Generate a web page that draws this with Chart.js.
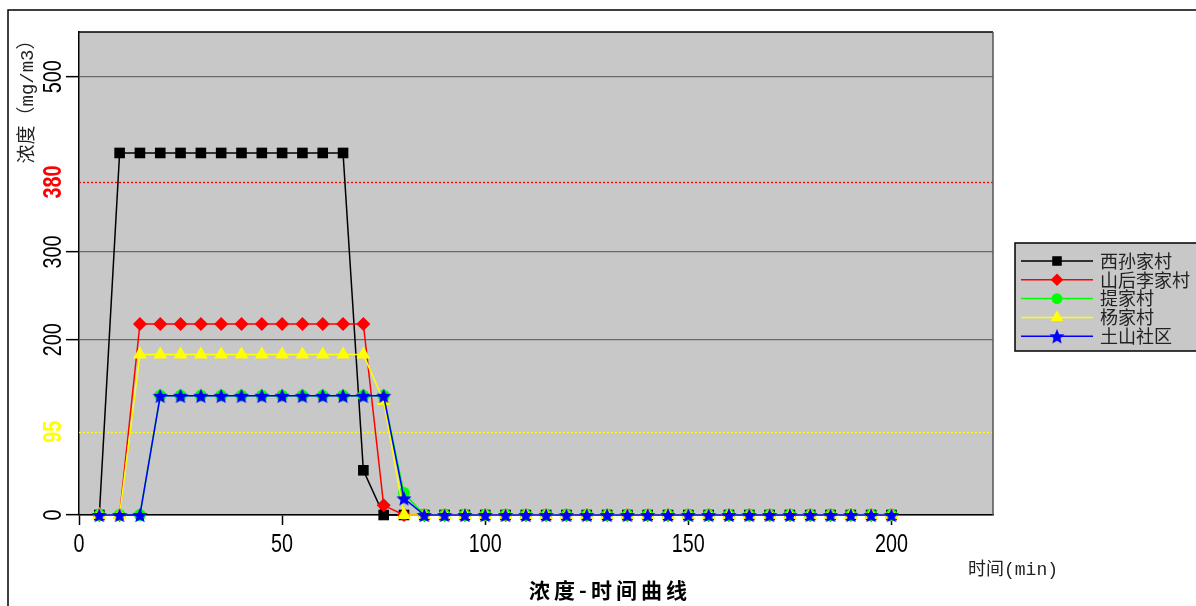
<!DOCTYPE html>
<html>
<head>
<meta charset="utf-8">
<script src="https://cdn.jsdelivr.net/npm/chart.js@4.4.1/dist/chart.umd.min.js"></script>
<style>
  html, body { margin: 0; padding: 0; background: #fff; }
  #wrap { width: 1196px; height: 606px; position: relative; }
</style>
</head>
<body>
<div id="wrap"><canvas id="myChart" width="1196" height="606"></canvas></div>
<script>
// time points (min)
const times = [5, 10, 15, 20, 25, 30, 35, 40, 45, 50, 55, 60, 65, 70, 75, 80, 85, 90, 95, 100,
               105, 110, 115, 120, 125, 130, 135, 140, 145, 150, 155, 160, 165, 170, 175, 180, 185, 190, 195, 200];

const names = ['西孙家村', '山后李家村', '提家村', '杨家村', '土山社区'];

const xisun   = [0, 413, 413, 413, 413, 413, 413, 413, 413, 413, 413, 413, 413, 51, 0, 0, 0, 0, 0, 0,
                 0, 0, 0, 0, 0, 0, 0, 0, 0, 0, 0, 0, 0, 0, 0, 0, 0, 0, 0, 0];
const shanhou = [0, 0, 218, 218, 218, 218, 218, 218, 218, 218, 218, 218, 218, 218, 11, 0, 0, 0, 0, 0,
                 0, 0, 0, 0, 0, 0, 0, 0, 0, 0, 0, 0, 0, 0, 0, 0, 0, 0, 0, 0];
const tijia   = [0, 0, 0, 136, 136, 136, 136, 136, 136, 136, 136, 136, 136, 136, 136, 25, 0, 0, 0, 0,
                 0, 0, 0, 0, 0, 0, 0, 0, 0, 0, 0, 0, 0, 0, 0, 0, 0, 0, 0, 0];
const yangjia = [0, 0, 183, 183, 183, 183, 183, 183, 183, 183, 183, 183, 183, 183, 130, 0, 0, 0, 0, 0,
                 0, 0, 0, 0, 0, 0, 0, 0, 0, 0, 0, 0, 0, 0, 0, 0, 0, 0, 0, 0];
const tushan  = [0, 0, 0, 136, 136, 136, 136, 136, 136, 136, 136, 136, 136, 136, 136, 19, 0, 0, 0, 0,
                 0, 0, 0, 0, 0, 0, 0, 0, 0, 0, 0, 0, 0, 0, 0, 0, 0, 0, 0, 0];

const xTicks = [0, 50, 100, 150, 200];
const yTicks = [0, 95, 200, 300, 380, 500];
const limits = [{ value: 380, color: '#ff0000' }, { value: 95, color: '#ffff00' }];

const NUM_FONT = '"Liberation Sans", Arial, sans-serif';
const CJK_FONT = '"Liberation Mono", "Noto Sans CJK SC", monospace';
const SQUEEZE = 0.76; // numbers in the original are a narrow face

function starImage(size, color) {
    const c = document.createElement('canvas');
    c.width = size; c.height = size;
    const g = c.getContext('2d');
    const cx = size / 2, cy = size / 2 + 0.8, R = size / 2, r = R * 0.45;
    g.beginPath();
    for (let i = 0; i < 10; i++) {
        const rad = i % 2 ? r : R;
        const a = -Math.PI / 2 + i * Math.PI / 5;
        g.lineTo(cx + rad * Math.cos(a), cy + rad * Math.sin(a));
    }
    g.closePath();
    g.fillStyle = color;
    g.fill();
    return c;
}
const star = starImage(16, '#0000ff');

function pts(arr) {
    return times.map((t, i) => ({ x: t, y: arr[i] }));
}

const series = [
    { label: names[0], data: xisun,   color: '#000000', style: 'rect',    radius: 7.5, order: 4 },
    { label: names[1], data: shanhou, color: '#ff0000', style: 'rectRot', radius: 7,   order: 3 },
    { label: names[2], data: tijia,   color: '#00ff00', style: 'circle',  radius: 6,   order: 2 },
    { label: names[3], data: yangjia, color: '#ffff00', style: 'triangle', radius: 8,  order: 1 },
    { label: names[4], data: tushan,  color: '#0000ff', style: star,      radius: 8,   order: 0 },
];

const frame = {
    id: 'frame',
    beforeDraw(chart) {
        const { ctx, chartArea: a } = chart;
        ctx.save();
        ctx.fillStyle = '#c8c8c8';
        ctx.fillRect(a.left, a.top, a.right - a.left, a.bottom - a.top);
        ctx.restore();
    },
    beforeDatasetsDraw(chart) {
        const { ctx, chartArea: a } = chart;
        const y = chart.scales.y;
        ctx.save();
        ctx.lineWidth = 1.3;
        ctx.setLineDash([2, 2]);
        limits.forEach(l => {
            const py = Math.round(y.getPixelForValue(l.value)) + 0.5;
            ctx.strokeStyle = l.color;
            ctx.beginPath();
            ctx.moveTo(a.left, py);
            ctx.lineTo(a.right, py);
            ctx.stroke();
        });
        ctx.setLineDash([]);
        ctx.strokeStyle = '#000';
        ctx.lineWidth = 1.5;
        ctx.beginPath();
        ctx.moveTo(a.left, a.top);
        ctx.lineTo(a.right, a.top);
        ctx.stroke();
        ctx.strokeStyle = '#555';
        ctx.beginPath();
        ctx.moveTo(a.right, a.top);
        ctx.lineTo(a.right, a.bottom);
        ctx.stroke();
        ctx.restore();
    },
    afterDraw(chart) {
        const { ctx } = chart;
        const x = chart.scales.x;
        const y = chart.scales.y;
        ctx.save();

        // outer frame
        ctx.strokeStyle = '#000';
        ctx.lineWidth = 1.5;
        ctx.strokeRect(8, 10, 1400, 800);

        // x tick labels
        ctx.fillStyle = '#000';
        ctx.font = '26px ' + NUM_FONT;
        ctx.textAlign = 'center';
        ctx.textBaseline = 'alphabetic';
        xTicks.forEach(v => {
            ctx.save();
            ctx.translate(x.getPixelForValue(v), 552);
            ctx.scale(SQUEEZE, 1);
            ctx.fillText(String(v), 0, 0);
            ctx.restore();
        });

        // y tick labels, vertical
        yTicks.forEach(v => {
            const lim = limits.find(l => l.value === v);
            ctx.save();
            ctx.translate(61, y.getPixelForValue(v));
            ctx.rotate(-Math.PI / 2);
            ctx.scale(SQUEEZE, 1);
            ctx.fillStyle = lim ? lim.color : '#000';
            ctx.font = (lim ? 'bold ' : '') + '26px ' + NUM_FONT;
            ctx.fillText(String(v), 0, 0);
            ctx.restore();
        });

        // y title
        ctx.save();
        ctx.translate(28, 97);
        ctx.rotate(-Math.PI / 2);
        ctx.fillStyle = '#222';
        ctx.textBaseline = 'middle';
        ctx.font = '19px ' + CJK_FONT;
        ctx.fillText('浓度（mg/m3）', 0, 0);
        ctx.restore();

        // x title
        ctx.fillStyle = '#222';
        ctx.font = '18px ' + CJK_FONT;
        ctx.textAlign = 'left';
        ctx.textBaseline = 'middle';
        ctx.fillText('时间(min)', 968, 570);

        // chart title
        ctx.fillStyle = '#000';
        ctx.font = 'bold 21px "Noto Sans CJK SC"';
        ctx.textAlign = 'center';
        ctx.letterSpacing = '4px';
        ctx.fillText('浓度-时间曲线', 610, 590);
        ctx.letterSpacing = '0px';

        // legend
        const lx = 1015, ly = 243;
        ctx.fillStyle = '#c8c8c8';
        ctx.fillRect(lx, ly, 200, 108);
        ctx.strokeStyle = '#000';
        ctx.lineWidth = 1.5;
        ctx.strokeRect(lx, ly, 200, 108);
        series.forEach((s, i) => {
            const ry = 261 + i * 18.8;
            ctx.strokeStyle = s.color;
            ctx.lineWidth = 1.5;
            ctx.beginPath();
            ctx.moveTo(1021, ry);
            ctx.lineTo(1093, ry);
            ctx.stroke();
            ctx.fillStyle = s.color;
            Chart.helpers.drawPoint(ctx, { pointStyle: s.style, radius: s.radius * 0.9, rotation: 0, borderWidth: 0 }, 1057, ry);
            ctx.fillStyle = '#222';
            ctx.font = '18px "Noto Sans CJK SC"';
            ctx.textAlign = 'left';
            ctx.textBaseline = 'middle';
            ctx.fillText(s.label, 1100, ry);
        });
        ctx.restore();
    }
};

const config = {
    type: 'line',
    data: {
        datasets: series.map(s => ({
            label: s.label,
            data: pts(s.data),
            order: s.order,
            borderColor: s.color,
            backgroundColor: s.color,
            borderWidth: 1.5,
            pointStyle: s.style,
            pointRadius: s.radius,
            pointBorderWidth: 0,
            pointBackgroundColor: s.color,
            tension: 0,
            clip: false
        }))
    },
    options: {
        responsive: false,
        animation: false,
        events: [],
        layout: { padding: { top: 32, right: 203, left: 0, bottom: 0 } },
        plugins: { legend: { display: false }, title: { display: false }, tooltip: { enabled: false } },
        scales: {
            x: {
                type: 'linear',
                min: 0,
                max: 225,
                afterBuildTicks: s => { s.ticks = xTicks.map(v => ({ value: v })); },
                afterFit: s => { s.height = 91; },
                grid: { drawOnChartArea: false, tickLength: 10, tickColor: '#000', tickWidth: 1.5 },
                border: { color: '#000', width: 1.5 },
                ticks: { display: false }
            },
            y: {
                min: 0,
                max: 551,
                afterBuildTicks: s => { s.ticks = yTicks.map(v => ({ value: v })); },
                afterFit: s => { s.width = 79; },
                grid: {
                    color: c => (c.tick && limits.some(l => l.value === c.tick.value)) ? 'rgba(0,0,0,0)' : '#6a6a6a',
                    tickColor: c => (c.tick && limits.some(l => l.value === c.tick.value)) ? 'rgba(0,0,0,0)' : '#000',
                    lineWidth: 1.3,
                    tickLength: 13,
                    tickWidth: 1.5
                },
                border: { color: '#000', width: 1.5 },
                ticks: { display: false }
            }
        }
    },
    plugins: [frame]
};

const myChart = new Chart(document.getElementById('myChart'), config);
</script>
</body>
</html>
